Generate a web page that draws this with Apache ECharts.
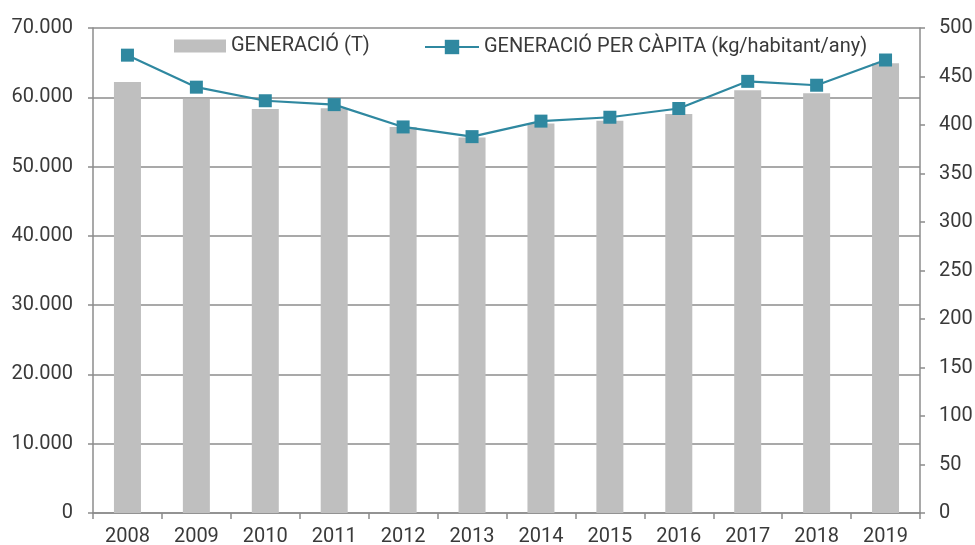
<!DOCTYPE html>
<html>
<head>
<meta charset="utf-8">
<script src="https://cdn.jsdelivr.net/npm/echarts@6/dist/echarts.min.js"></script>
<style>
html, body { margin: 0; padding: 0; background: #fff; }
#main { width: 975px; height: 545px; }
</style>
</head>
<body>
<div id="main"></div>
<script>
const chartDom = document.getElementById('main');
const myChart = echarts.init(chartDom);

// anys
const years = ['2008', '2009', '2010', '2011', '2012', '2013', '2014', '2015', '2016', '2017', '2018', '2019'];
// generació total (tones)
const generacio = [62200, 59800, 58300, 58400, 55700, 54200, 56200, 56600, 57600, 61000, 60600, 64900];
// generació per càpita (kg/habitant/any)
const perCapita = [472, 439, 425, 421, 398, 388, 404, 408, 417, 445, 441, 467];

const axisColor = '#8c8c8c';
const textColor = '#3a3a3a';
const lineColor = '#2f88a0';
const fontFamily = 'Roboto';

const fmt = v => String(v).replace(/\B(?=(\d{3})+(?!\d))/g, '.');

const option = {
    animation: false,
    textStyle: { fontFamily: fontFamily },
    grid: { left: 93, right: 55, top: 28, bottom: 32, containLabel: false, outerBoundsMode: 'none' },
    legend: [
        {
            top: 36,
            left: 174,
            padding: 0,
            itemWidth: 52,
            itemHeight: 13,
            textStyle: { fontSize: 20, color: textColor, fontFamily: fontFamily },
            data: [{ name: 'GENERACIÓ (T)', icon: 'rect' }]
        },
        {
            top: 37,
            left: 424,
            padding: 0,
            itemWidth: 54,
            itemHeight: 18,
            textStyle: { fontSize: 20, color: textColor, fontFamily: fontFamily },
            data: [{ name: 'GENERACIÓ PER CÀPITA (kg/habitant/any)' }]
        }
    ],
    xAxis: {
        type: 'category',
        data: years,
        boundaryGap: true,
        axisLine: { lineStyle: { color: axisColor, width: 1.5 } },
        axisTick: { show: true, length: 6, lineStyle: { color: axisColor, width: 1.5 } },
        axisLabel: { fontSize: 20, color: textColor, margin: 14 }
    },
    yAxis: [
        {
            type: 'value',
            min: 0,
            max: 70000,
            interval: 10000,
            axisLine: { show: true, lineStyle: { color: axisColor, width: 1.5 } },
            axisTick: { show: true, length: 5, lineStyle: { color: axisColor, width: 1.5 } },
            axisLabel: { fontSize: 20, color: textColor, margin: 20, formatter: fmt },
            splitLine: { show: true, lineStyle: { color: axisColor, width: 1.5 } }
        },
        {
            type: 'value',
            min: 0,
            max: 500,
            interval: 50,
            position: 'right',
            axisLine: { show: true, lineStyle: { color: axisColor, width: 1.5 } },
            axisTick: { show: true, length: 5, lineStyle: { color: axisColor, width: 1.5 } },
            axisLabel: { fontSize: 20, color: textColor, margin: 19 },
            splitLine: { show: false }
        }
    ],
    series: [
        {
            name: 'GENERACIÓ (T)',
            type: 'bar',
            yAxisIndex: 0,
            barWidth: 27,
            itemStyle: { color: '#bfbfbf' },
            data: generacio
        },
        {
            name: 'GENERACIÓ PER CÀPITA (kg/habitant/any)',
            type: 'line',
            yAxisIndex: 1,
            symbol: 'rect',
            symbolSize: 13,
            lineStyle: { color: lineColor, width: 2.2 },
            itemStyle: { color: lineColor },
            data: perCapita
        }
    ]
};

myChart.setOption(option);
</script>
</body>
</html>
